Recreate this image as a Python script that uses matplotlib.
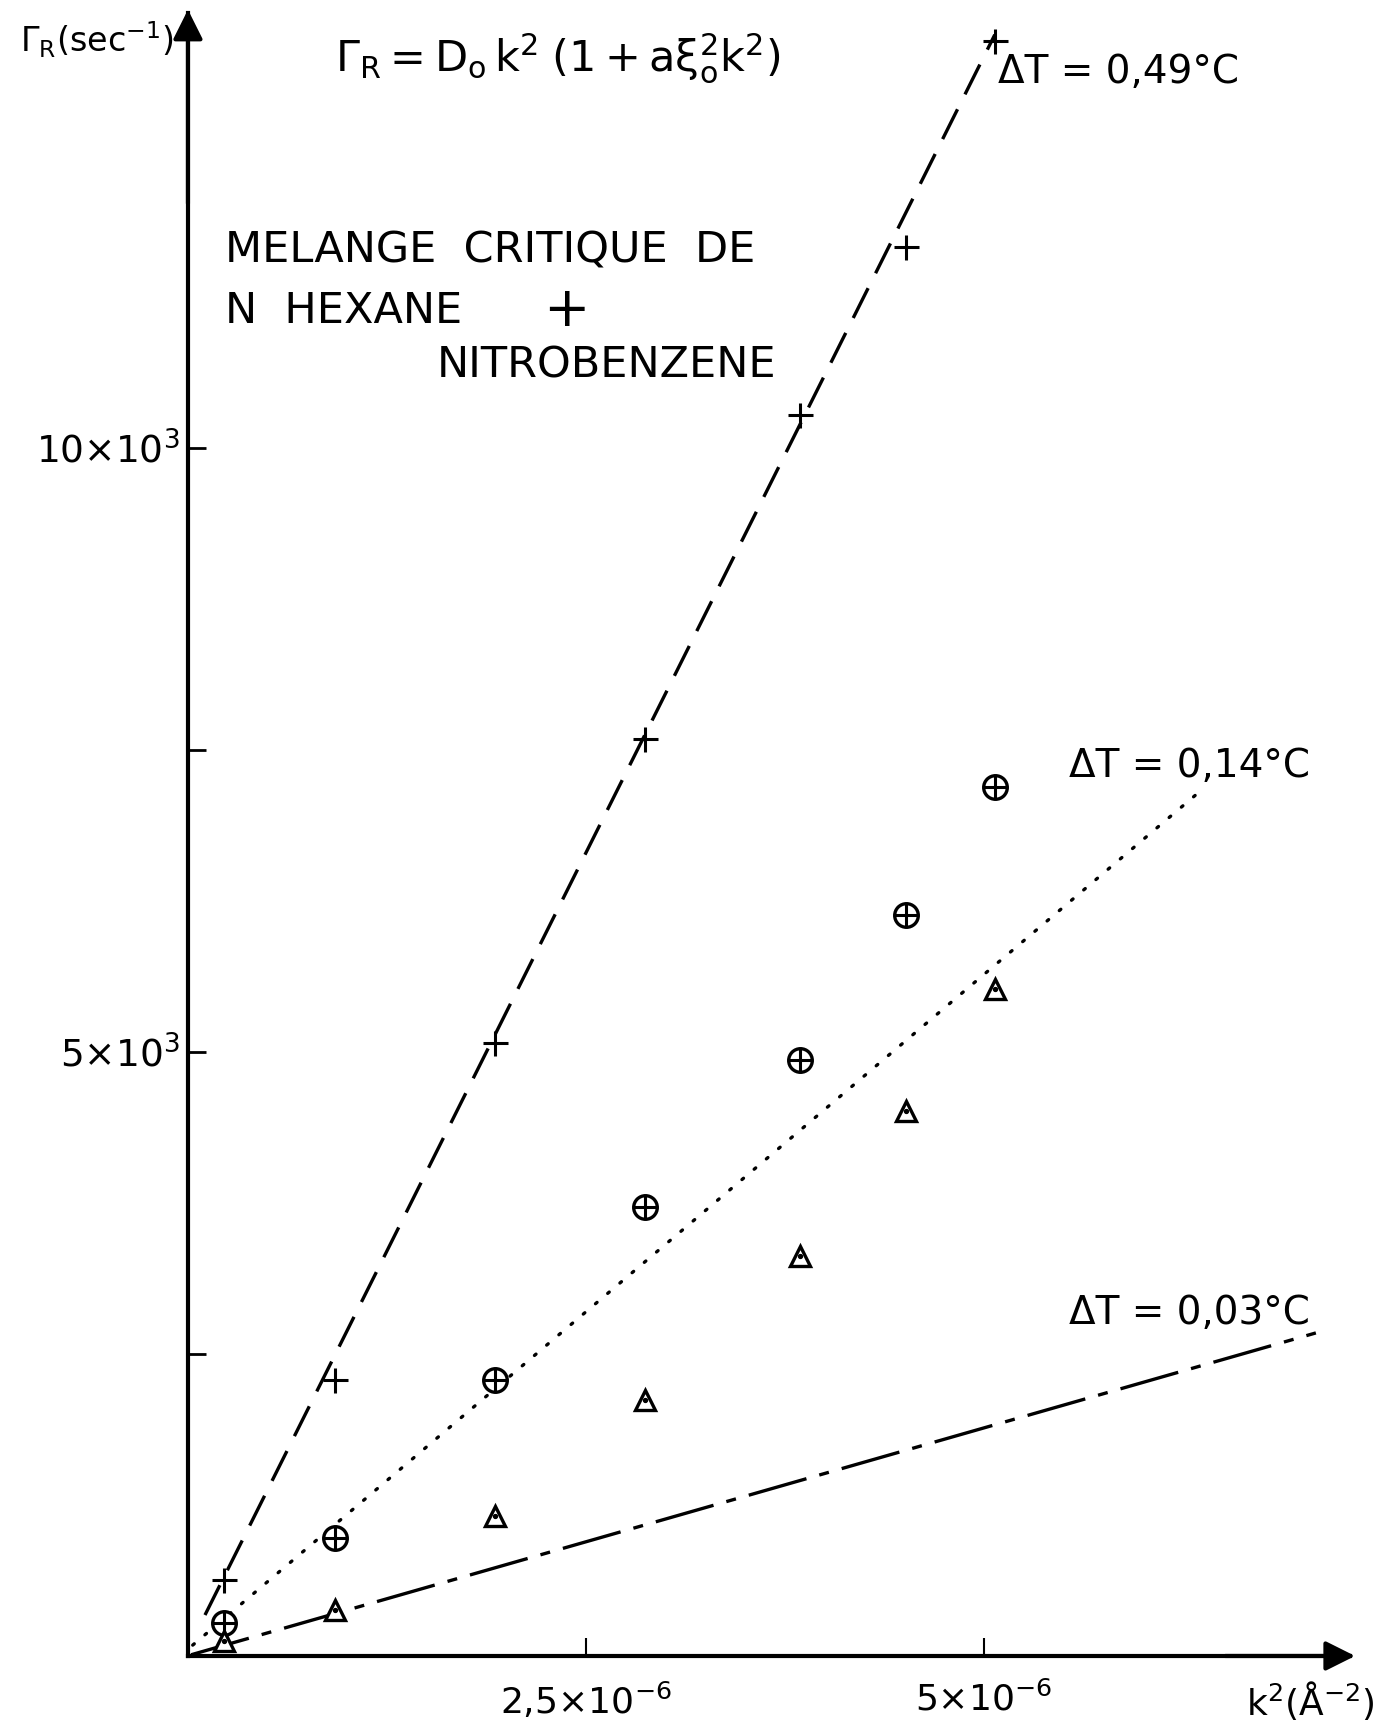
import matplotlib
matplotlib.use("Agg")
import matplotlib.pyplot as plt

plt.rcParams['font.family'] = ['DejaVu Sans']
plt.rcParams['mathtext.default'] = 'regular'

# k^2 in units of 1e-6 A^-2, Gamma_R in s^-1
k2 = [0.227, 0.924, 1.932, 2.870, 3.843, 4.513, 5.072]
gamma_049 = [629, 2285, 5075, 7590, 10270, 11660, 13370]
gamma_014 = [270, 977, 2285, 3717, 4934, 6134, 7194]
gamma_003 = [120, 384, 1159, 2122, 3313, 4513, 5523]

# fitted lines (end points)
fit_049_x = [0.107, 5.069]
fit_049_y = [339, 13420]
fit_014_x = [0.03, 6.376]
fit_014_y = [90, 7177]
fit_003_x = [0.02, 7.086]
fit_003_y = [10, 2674]

yticks = [2500, 5000, 7500, 10000]
ytick_labels = ['', '5×10$^3$', '', '10×10$^3$']
xticks = [2.5, 5.0]
xtick_labels = ['2,5×10$^{-6}$', '5×10$^{-6}$']

fig = plt.figure(figsize=(13.81, 17.23), dpi=100)
ax = fig.add_axes([0.1361, 0.0389, 0.8414, 0.9536])
ax.set_xlim(0, 7.3)
ax.set_ylim(0, 13600)

for s in ['top', 'right']:
    ax.spines[s].set_visible(False)
for s in ['left', 'bottom']:
    ax.spines[s].set_linewidth(3)

ax.set_yticks(yticks)
ax.set_yticklabels(ytick_labels, fontsize=27)
ax.set_xticks(xticks)
ax.set_xticklabels(xtick_labels, fontsize=26)
ax.tick_params(axis='y', direction='in', length=13, width=2, pad=6)
ax.tick_params(axis='x', direction='in', length=13, width=1.5, pad=18)

# arrow heads
ax.annotate('', xy=(0, 13650), xytext=(0, 12000),
            arrowprops=dict(arrowstyle='-|>', lw=3, color='black', mutation_scale=45),
            annotation_clip=False)
ax.annotate('', xy=(7.35, 0), xytext=(6.5, 0),
            arrowprops=dict(arrowstyle='-|>', lw=3, color='black', mutation_scale=45),
            annotation_clip=False)

# lines
ax.plot(fit_049_x, fit_049_y, color='black', lw=2.4, dashes=(10, 5))
ax.plot(fit_014_x, fit_014_y, color='black', lw=2.4, linestyle=(0, (0.6, 4.2)),
        dash_capstyle='round')
ax.plot(fit_003_x, fit_003_y, color='black', lw=2.4, dashes=(18, 4, 3, 4))

# markers
ax.plot(k2, gamma_049, linestyle='none', marker='+', markersize=18,
        markeredgewidth=2.2, color='black', clip_on=False)
ax.plot(k2, gamma_014, linestyle='none', marker='o', markersize=17,
        markeredgewidth=2.4, markerfacecolor='white', color='black', clip_on=False)
ax.plot(k2, gamma_014, linestyle='none', marker='+', markersize=17,
        markeredgewidth=2.2, color='black', clip_on=False)
ax.plot(k2, gamma_003, linestyle='none', marker='^', markersize=15,
        markeredgewidth=2.4, markerfacecolor='white', color='black', clip_on=False)
ax.plot(k2, gamma_003, linestyle='none', marker='o', markersize=2.8,
        color='black', clip_on=False)

# texts (figure pixel coordinates converted to fractions)
W, H = 1381, 1723
def ftext(x, y, s, size=28, ha='left', va='center'):
    fig.text(x / W, 1 - y / H, s, fontsize=size, ha=ha, va=va)

ftext(20, 40, r'$\Gamma_R$(sec$^{-1}$)', size=24)
ftext(335, 58, r'$\Gamma_R = D_o\,k^2\;(1+a\xi_o^2k^2)$', size=31)
ftext(998, 72, 'ΔT = 0,49°C', size=28)
ftext(1069, 766, 'ΔT = 0,14°C', size=28)
ftext(1069, 1313, 'ΔT = 0,03°C', size=28)
ftext(225, 250, 'MELANGE  CRITIQUE  DE', size=31)
ftext(225, 311, 'N  HEXANE', size=31)
ftext(566, 311, '+', size=40, ha='center')
ftext(437, 366, 'NITROBENZENE', size=31)
ftext(1375, 1700, 'k$^2$(Å$^{-2}$)', size=26, ha='right')

fig.savefig('out.png', dpi=100, facecolor='white')
